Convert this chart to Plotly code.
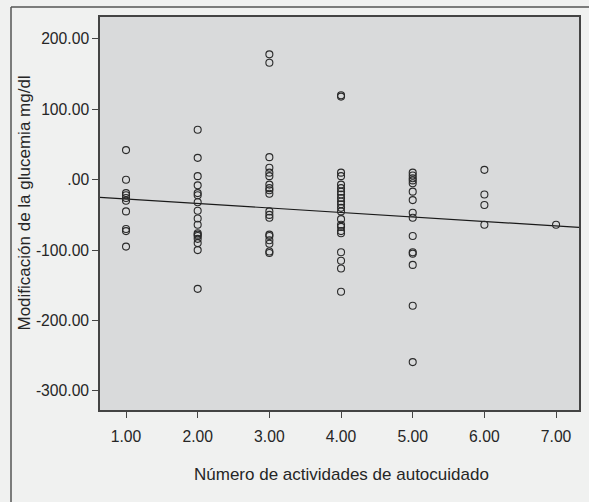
import numpy as np
import plotly.graph_objects as go

# Data (x = number of self-care activities, y = glycemia change mg/dl)
act_1 = [42, 0, -19, -22, -26, -30, -45, -70, -73, -95]
act_2 = [71, 31, 5, -8, -19, -22, -32, -44, -55, -64, -76, -78, -80, -84, -90, -100, -155]
act_3 = [178, 166, 32, 17, 10, 5, -7, -12, -15, -20, -45, -50, -54, -78, -80, -86, -91, -102, -104]
act_4 = [120, 118, 10, 5, -7, -12, -17, -21, -26, -31, -35, -40, -45, -56, -64, -67, -73, -76,
         -103, -115, -126, -159]
act_5 = [10, 6, 2, -1, -5, -17, -29, -47, -54, -80, -103, -105, -121, -179, -259]
act_6 = [14, -21, -36, -64]
act_7 = [-64]

groups = [1, 2, 3, 4, 5, 6, 7]
values = [act_1, act_2, act_3, act_4, act_5, act_6, act_7]

# Fit line as drawn in the reference
fit_intercept = -21.0
fit_slope = -6.38

x_title = "Número de actividades de autocuidado"
y_title = "Modificación de la glucemia mg/dl"

x_vals = []
y_vals = []
for g, vals in zip(groups, values):
    x_vals += [g] * len(vals)
    y_vals += vals

x_ticks = [1, 2, 3, 4, 5, 6, 7]
x_tick_text = ["1.00", "2.00", "3.00", "4.00", "5.00", "6.00", "7.00"]
y_ticks = [200, 100, 0, -100, -200, -300]
y_tick_text = ["200.00", "100.00", ".00", "-100.00", "-200.00", "-300.00"]

x_range = [0.637, 7.32]
y_range = [-327, 231]

line_x = np.array(x_range)
line_y = fit_intercept + fit_slope * line_x

FONT = "Liberation Sans, Arial, sans-serif"
TXT = "#262626"
BG = "#f0f1f0"

fig = go.Figure()
fig.add_trace(go.Scatter(
    x=line_x, y=line_y, mode="lines",
    line=dict(color="#1a1a1a", width=1.2),
    hoverinfo="skip", showlegend=False,
))
fig.add_trace(go.Scatter(
    x=x_vals, y=y_vals, mode="markers",
    marker=dict(symbol="circle-open", size=7, color="#2a2a2a", line=dict(width=1.1)),
    showlegend=False,
))

L, T, PW, PH = 100, 17, 479, 393


def px(xp):
    return (xp - L) / PW


def py(yp):
    return (T + PH - yp) / PH


fig.update_layout(
    width=589, height=502,
    margin=dict(l=L, r=589 - L - PW, t=T, b=502 - T - PH),
    paper_bgcolor=BG,
    plot_bgcolor="#d9dadb",
    font=dict(family=FONT, size=16, color=TXT),
    shapes=[
        dict(type="line", xref="paper", yref="paper",
             x0=px(11), x1=px(600), y0=py(7), y1=py(7),
             line=dict(color="#555555", width=1.5)),
        dict(type="line", xref="paper", yref="paper",
             x0=px(11), x1=px(11), y0=py(520), y1=py(7),
             line=dict(color="#555555", width=1.5)),
    ],
    annotations=[
        dict(text=x_title, xref="paper", yref="paper", x=px(341), y=py(474),
             xanchor="center", yanchor="middle", showarrow=False,
             font=dict(size=17, color=TXT)),
        dict(text=y_title, xref="paper", yref="paper", x=px(24), y=py(203.5),
             xanchor="center", yanchor="middle", showarrow=False, textangle=-90,
             font=dict(size=17, color=TXT)),
    ],
)
fig.update_xaxes(
    range=x_range, tickvals=x_ticks, ticktext=x_tick_text, automargin=False,
    showgrid=False, zeroline=False,
    showline=True, linecolor="#444444", linewidth=1.5, mirror=True,
    ticks="outside", ticklen=6, tickcolor="#444444", tickwidth=1.2,
    ticklabelstandoff=5,
    tickfont=dict(size=15.7, color=TXT),
)
fig.update_yaxes(
    range=y_range, tickvals=y_ticks, ticktext=y_tick_text, automargin=False,
    showgrid=False, zeroline=False,
    showline=True, linecolor="#444444", linewidth=1.5, mirror=True,
    ticks="outside", ticklen=6, tickcolor="#444444", tickwidth=1.2,
    tickfont=dict(size=15.7, color=TXT),
)

fig.write_html(
    "out.html",
    config={"displayModeBar": False},
    post_script="document.body.style.margin='0';document.body.style.overflow='hidden';"
                "document.body.style.background='" + BG + "';",
)
